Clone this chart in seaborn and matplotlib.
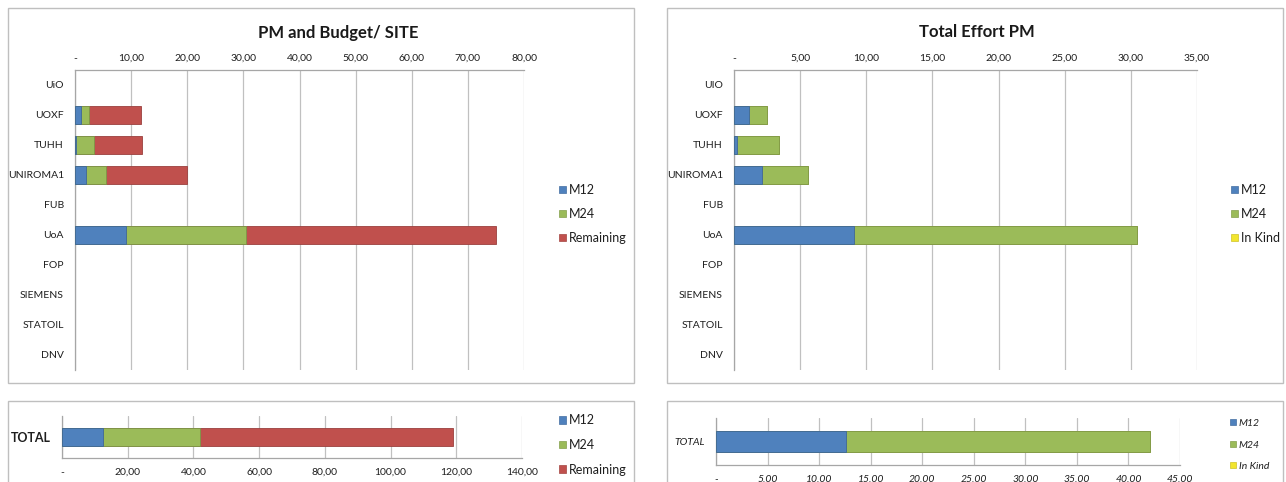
import matplotlib
matplotlib.use("Agg")
import matplotlib.pyplot as plt
import seaborn as sns
import pandas as pd
import numpy as np
from matplotlib.patches import Rectangle, Patch
from matplotlib.ticker import FuncFormatter, MultipleLocator

# ---------------- data ----------------
sites_budget = ["UiO", "UOXF", "TUHH", "UNIROMA1", "FUB", "UoA", "FOP", "SIEMENS", "STATOIL", "DNV"]
sites_effort = ["UIO", "UOXF", "TUHH", "UNIROMA1", "FUB", "UoA", "FOP", "SIEMENS", "STATOIL", "DNV"]

budget_m12 = [0, 1.1, 0.15, 2.0, 0, 9.0, 0, 0, 0, 0]
budget_m24 = [0, 1.4, 3.2, 3.5, 0, 21.4, 0, 0, 0, 0]
budget_remaining = [0, 9.3, 8.5, 14.4, 0, 44.6, 0, 0, 0, 0]

effort_m12 = [0, 1.16, 0.22, 2.1, 0, 9.08, 0, 0, 0, 0]
effort_m24 = [0, 1.35, 3.2, 3.47, 0, 21.37, 0, 0, 0, 0]
effort_inkind = [0, 0, 0, 0, 0, 0, 0, 0, 0, 0]

total_label = ["TOTAL"]
total_budget_m12 = [12.6]
total_budget_m24 = [29.5]
total_budget_remaining = [76.8]
total_effort_m12 = [12.6]
total_effort_m24 = [29.45]
total_effort_inkind = [0.0]

names_budget = ["M12", "M24", "Remaining"]
names_effort = ["M12", "M24", "In Kind"]

# ---------------- style ----------------
sns.set_theme(style="white")
plt.rcParams["font.family"] = ["Lato", "DejaVu Sans"]

BLUE = "#4F81BD"
GREEN = "#9BBB59"
RED = "#C0504D"
YELLOW = "#F2E52E"
GRID = "#C0C0C0"
AXIS = "#A6A6A6"
TXT = "#1e1e1e"
W, H = 1286, 482

fig = plt.figure(figsize=(W / 100, H / 100), dpi=100)


def fx(px):
    return px / W


def fy(py):
    return 1 - py / H


def panel(x0, y0, x1, y1):
    fig.add_artist(Rectangle((fx(x0), fy(y1)), fx(x1 - x0), (y1 - y0) / H,
                             transform=fig.transFigure, fill=False,
                             edgecolor="#BFBFBF", lw=1.0, zorder=0))


def darker(c, f=0.8):
    r, g, b = matplotlib.colors.to_rgb(c)
    return (r * f, g * f, b * f)


def stacked(ax, cats, series, colors, width):
    cum = np.cumsum(np.array(series, dtype=float), axis=0)
    for i in reversed(range(len(series))):
        df = pd.DataFrame({"cat": cats, "val": cum[i]})
        sns.barplot(data=df, x="val", y="cat", order=cats, color=colors[i],
                    saturation=1, width=width, orient="h", ax=ax,
                    edgecolor=darker(colors[i]), linewidth=0.6, zorder=3)
    for p in ax.patches:
        if p.get_width() <= 1e-9:
            p.set_linewidth(0)
    ax.set_xlabel("")
    ax.set_ylabel("")


def comma_fmt(v, pos):
    if abs(v) < 1e-9:
        return "-"
    return f"{v:.2f}".replace(".", ",")


def dot_fmt(v, pos):
    if abs(v) < 1e-9:
        return "-"
    return f"{v:.2f}"


def legend(names, colors, x, y, size, spacing, italic=False):
    handles = [Patch(facecolor=c, edgecolor=darker(c, 0.85), lw=0.5) for c in colors]
    fig.legend(handles, names, loc="center left", bbox_to_anchor=(fx(x), fy(y)),
               frameon=False, handlelength=0.55, handleheight=0.55,
               handletextpad=0.25, labelspacing=spacing, borderpad=0,
               prop={"size": size, "style": "italic" if italic else "normal"},
               labelcolor=TXT)


# panels
panel(8, 8, 634, 383)
panel(667, 8, 1283, 383)
panel(8, 401, 634, 495)
panel(667, 401, 1283, 495)


def top_axes(ax, xmax, step):
    ax.set_xlim(0, xmax)
    ax.xaxis.set_major_locator(MultipleLocator(step))
    ax.xaxis.set_major_formatter(FuncFormatter(comma_fmt))
    ax.xaxis.tick_top()
    ax.grid(axis="x", color=GRID, lw=0.9, zorder=0)
    ax.set_axisbelow(True)
    for s in ["right", "bottom"]:
        ax.spines[s].set_visible(False)
    for s in ["left", "top"]:
        ax.spines[s].set_color(AXIS)
        ax.spines[s].set_linewidth(0.9)
    ax.tick_params(axis="both", length=0, labelsize=7.5, labelcolor=TXT)
    ax.tick_params(axis="x", pad=5)
    ax.tick_params(axis="y", pad=8)


def bottom_axes(ax, xmax, step, fmt, label_kw, italic=False):
    ax.set_xlim(0, xmax)
    ax.set_ylim(0.5, -0.5)
    ax.xaxis.set_major_locator(MultipleLocator(step))
    ax.xaxis.set_major_formatter(FuncFormatter(fmt))
    ax.grid(axis="x", color=GRID, lw=0.9, zorder=0)
    ax.set_axisbelow(True)
    for s in ["right", "top"]:
        ax.spines[s].set_visible(False)
    for s in ["left", "bottom"]:
        ax.spines[s].set_color(AXIS)
        ax.spines[s].set_linewidth(0.9)
    ax.set_yticks([-0.5, 0.5])
    ax.set_yticklabels(["", ""])
    ax.set_yticks([0], minor=True)
    ax.set_yticklabels(total_label, minor=True, color=TXT, **label_kw)
    ax.tick_params(axis="y", which="major", length=4, color=AXIS, width=0.9)
    ax.tick_params(axis="y", which="minor", length=0, pad=8)
    ax.tick_params(axis="x", length=4, color=AXIS, width=0.9, labelsize=7.5,
                   labelcolor=TXT, pad=3)
    if italic:
        for t in ax.get_xticklabels():
            t.set_fontstyle("italic")


# ---------------- top-left ----------------
ax1 = fig.add_axes([fx(75), fy(370), fx(524 - 75), 300 / H])
stacked(ax1, sites_budget, [budget_m12, budget_m24, budget_remaining], [BLUE, GREEN, RED], 0.62)
top_axes(ax1, 80, 10)
fig.text(fx(338), fy(33), "PM and Budget/ SITE", ha="center", va="center",
         fontsize=12, fontweight="bold", color="#1a1a1a")
legend(names_budget, [BLUE, GREEN, RED], 553, 214, 9, 0.95)

# ---------------- top-right ----------------
ax2 = fig.add_axes([fx(734), fy(370), fx(1197 - 734), 300 / H])
stacked(ax2, sites_effort, [effort_m12, effort_m24, effort_inkind], [BLUE, GREEN, YELLOW], 0.62)
top_axes(ax2, 35, 5)
fig.text(fx(977), fy(32), "Total Effort PM", ha="center", va="center",
         fontsize=12, fontweight="bold", color="#1a1a1a")
legend(names_effort, [BLUE, GREEN, YELLOW], 1225, 214, 9, 0.95)

# ---------------- bottom-left ----------------
ax3 = fig.add_axes([fx(62), fy(458), fx(522 - 62), 42 / H])
stacked(ax3, total_label, [total_budget_m12, total_budget_m24, total_budget_remaining],
        [BLUE, GREEN, RED], 0.43)
bottom_axes(ax3, 140, 20, comma_fmt, {"fontsize": 9, "fontweight": "bold"})
legend(names_budget, [BLUE, GREEN, RED], 553, 445, 9, 1.0)

# ---------------- bottom-right ----------------
ax4 = fig.add_axes([fx(716), fy(465), fx(1180 - 716), 47 / H])
stacked(ax4, total_label, [total_effort_m12, total_effort_m24, total_effort_inkind],
        [BLUE, GREEN, YELLOW], 0.43)
bottom_axes(ax4, 45, 5, dot_fmt, {"fontsize": 7.5, "fontstyle": "italic"}, italic=True)
legend(names_effort, [BLUE, GREEN, YELLOW], 1225, 445, 7.5, 1.2, italic=True)

fig.savefig("out.png", dpi=100)
